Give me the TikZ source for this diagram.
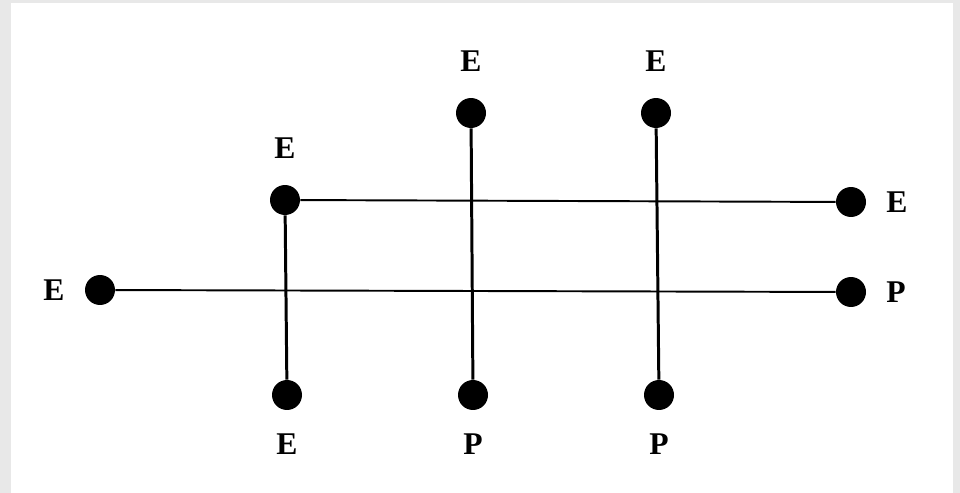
\documentclass[tikz,border=0pt]{standalone}
\usepackage{fontspec}
\setmainfont{Liberation Serif}
\usepackage{tikz}
\usetikzlibrary{positioning}

\begin{document}
\begin{tikzpicture}[x=0.02cm, y=-0.02cm,
  every node/.style={circle, fill=black, minimum size=0.6cm, inner sep=0pt},
  every label/.style={fill=none, rectangle, inner sep=1pt, minimum size=0pt, font=\fontsize{18}{20}\selectfont\bfseries},
  label distance=0.36cm
]
  \fill[black!9] (0,0) rectangle (960,493);
  \fill[white] (11,3) rectangle (953,493);
  \useasboundingbox (0,0) rectangle (960,493);
  \node[label={left:E}]  (l)  at (100, 290) {};
  \node[label={right:P}] (rp) at (851, 292) {};
  \node[label={right:E}] (re) at (851, 202) {};
  \node[label={[label distance=0.48cm]above:E}] (a1) at (285, 200) {};
  \node[label={[label distance=0.42cm]below:E}] (b1) at (287, 395) {};
  \node[label={[label distance=0.48cm]above:E}] (a2) at (471, 113) {};
  \node[label={[label distance=0.42cm]below:P}] (b2) at (473, 395) {};
  \node[label={[label distance=0.48cm]above:E}] (a3) at (656, 113) {};
  \node[label={[label distance=0.42cm]below:P}] (b3) at (659, 395) {};
  \draw[line width=1.1pt] (a1)--(re) (l)--(rp);
  \draw[line width=1.7pt] (a1)--(b1) (a2)--(b2) (a3)--(b3);
\end{tikzpicture}
\end{document}
